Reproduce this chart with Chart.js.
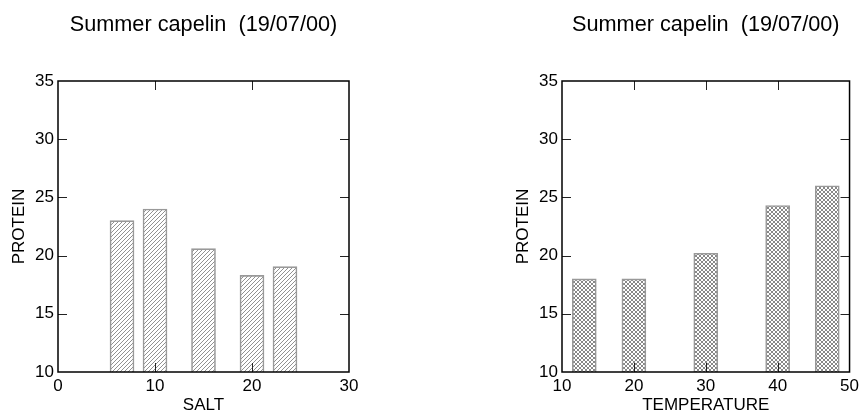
<!DOCTYPE html>
<html>
<head>
<meta charset="utf-8">
<script src="https://cdn.jsdelivr.net/npm/chart.js@4/dist/chart.umd.min.js"></script>
<style>
  html, body { margin: 0; padding: 0; background: #fff; }
  #wrap { position: relative; width: 863px; height: 417px; overflow: hidden; }
  canvas { position: absolute; left: 0; top: 0; }
</style>
</head>
<body>
<div id="wrap">
  <canvas id="c1" width="863" height="417"></canvas>
  <canvas id="c2" width="863" height="417"></canvas>
</div>
<script>
// ---- data ----
const titleText = 'Summer capelin  (19/07/00)';
const yLabel = 'PROTEIN';
const yTicks = [10, 15, 20, 25, 30, 35];

const saltLabel = 'SALT';
const saltX = [6.6, 10, 15, 20, 23.4];
const saltProtein = [23.0, 24.0, 20.6, 18.3, 19.05];
const saltTicks = [0, 10, 20, 30];

const tempLabel = 'TEMPERATURE';
const tempX = [13.1, 20, 30, 40, 46.9];
const tempProtein = [18.0, 18.0, 20.2, 24.3, 26.0];
const tempTicks = [10, 20, 30, 40, 50];

// ---- styles ----
const FONT = "'Liberation Sans', Arial, sans-serif";
const W = 863, H = 417;
const TOP = 81, BOTTOM = 372;
const TITLE_SIZE = 21.7;

function makeHatch(cross) {
  const p = 4;
  const c = document.createElement('canvas');
  c.width = p; c.height = p;
  const g = c.getContext('2d');
  g.fillStyle = '#fff';
  g.fillRect(0, 0, p, p);
  g.strokeStyle = cross ? '#7a7a7a' : '#858585';
  g.lineWidth = 0.9;
  g.beginPath();
  g.moveTo(0, p); g.lineTo(p, 0);
  g.moveTo(-1, 1); g.lineTo(1, -1);
  g.moveTo(p - 1, p + 1); g.lineTo(p + 1, p - 1);
  if (cross) {
    g.moveTo(0, 0); g.lineTo(p, p);
    g.moveTo(-1, p - 1); g.lineTo(1, p + 1);
    g.moveTo(p - 1, -1); g.lineTo(p + 1, 1);
  }
  g.stroke();
  return g.createPattern(c, 'repeat');
}

const framePlugin = {
  id: 'frame',
  afterDatasetsDraw(chart) {
    const ctx = chart.ctx;
    const a = chart.chartArea;
    const xs = chart.scales.x, ys = chart.scales.y;
    const TL = 9;
    ctx.save();
    ctx.strokeStyle = '#222';
    ctx.lineWidth = 1;
    ctx.beginPath();
    xs.ticks.forEach(t => {
      if (t.value <= xs.min || t.value >= xs.max) return;
      const px = Math.round(xs.getPixelForValue(t.value)) + 0.5;
      ctx.moveTo(px, a.bottom); ctx.lineTo(px, a.bottom - TL);
      ctx.moveTo(px, a.top); ctx.lineTo(px, a.top + TL);
    });
    ys.ticks.forEach(t => {
      if (t.value <= ys.min || t.value >= ys.max) return;
      const py = Math.round(ys.getPixelForValue(t.value)) + 0.5;
      ctx.moveTo(a.left, py); ctx.lineTo(a.left + TL, py);
      ctx.moveTo(a.right, py); ctx.lineTo(a.right - TL, py);
    });
    ctx.stroke();
    ctx.strokeStyle = '#000';
    ctx.lineWidth = 1.5;
    ctx.strokeRect(a.left, a.top, a.right - a.left, a.bottom - a.top);
    ctx.restore();
  }
};

function makeChart(id, left, right, xLabel, xs, ys, xTicks, pattern) {
  const yWidth = 58;
  return new Chart(document.getElementById(id), {
    type: 'bar',
    data: {
      datasets: [{
        data: xs.map((x, i) => ({ x: x, y: ys[i] })),
        backgroundColor: pattern,
        borderColor: '#999999',
        borderWidth: 1.6,
        barThickness: 24
      }]
    },
    options: {
      responsive: false,
      animation: false,
      events: [],
      layout: { padding: { left: left - yWidth, right: W - right, top: 0, bottom: 0 } },
      plugins: {
        legend: { display: false },
        tooltip: { enabled: false },
        title: {
          display: true,
          text: titleText,
          fullSize: false,
          color: '#000',
          font: { family: FONT, size: TITLE_SIZE, weight: 'normal', lineHeight: 1.2 },
          padding: { top: 12, bottom: TOP - 12 - TITLE_SIZE * 1.2 }
        }
      },
      scales: {
        x: {
          type: 'linear',
          min: xTicks[0], max: xTicks[xTicks.length - 1],
          offset: false,
          grid: { display: false, drawTicks: false },
          border: { display: false },
          afterBuildTicks: s => { s.ticks = xTicks.map(v => ({ value: v })); },
          ticks: { color: '#000', padding: 4, maxRotation: 0, font: { family: FONT, size: 17 } },
          title: { display: true, text: xLabel, color: '#000', font: { family: FONT, size: 17 }, padding: { top: 0, bottom: 1 } },
          afterFit: s => { s.height = H - BOTTOM; }
        },
        y: {
          type: 'linear',
          min: yTicks[0], max: yTicks[yTicks.length - 1],
          grid: { display: false, drawTicks: false },
          border: { display: false },
          afterBuildTicks: s => { s.ticks = yTicks.map(v => ({ value: v })); },
          ticks: { color: '#000', padding: 4, font: { family: FONT, size: 17 } },
          title: { display: true, text: yLabel, color: '#000', font: { family: FONT, size: 17 }, padding: { top: 9, bottom: 0 } },
          afterFit: s => { s.width = yWidth; }
        }
      }
    },
    plugins: [framePlugin]
  });
}

makeChart('c1', 58, 349, saltLabel, saltX, saltProtein, saltTicks, makeHatch(false));
makeChart('c2', 562, 853, tempLabel, tempX, tempProtein, tempTicks, makeHatch(true));
</script>
</body>
</html>
